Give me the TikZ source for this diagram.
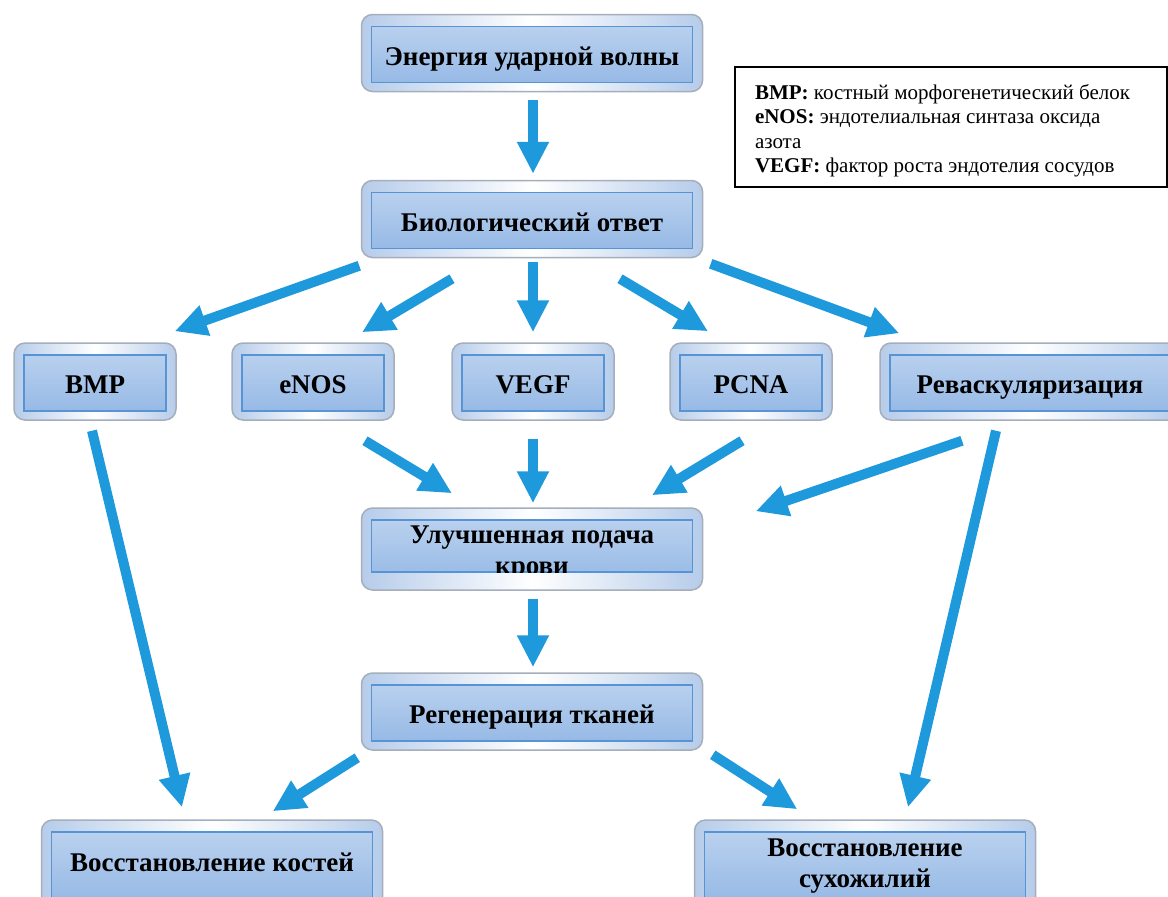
\documentclass[tikz,border=0pt]{standalone}
\usepackage{fontspec}
\setmainfont{Liberation Serif}
\usetikzlibrary{arrows.meta,calc}
\definecolor{arrblue}{RGB}{30,153,219}
\definecolor{intop}{RGB}{192,213,240}
\definecolor{inbot}{RGB}{145,182,228}
\definecolor{inline}{RGB}{86,148,214}
\definecolor{framegray}{RGB}{165,174,186}
\definecolor{frameblue}{RGB}{182,204,234}
\newcommand{\boxfont}{\fontsize{27}{31}\selectfont\bfseries}
\newcommand{\keyfont}{\fontsize{21}{24.5}\selectfont}

\begin{document}
\begin{tikzpicture}[x=1pt, y=-1pt,
  in bot/.initial=9pt,
  box/.style={rounded corners=11pt, draw=framegray, line width=1.5pt,
              left color=frameblue, right color=frameblue, middle color=white,
              minimum width=341pt, minimum height=77pt, inner sep=0pt,
              font=\boxfont, text height=30pt, text depth=6pt, align=center,
              path picture={\draw[sharp corners, draw=inline, line width=1.2pt,
                  top color=intop, bottom color=inbot]
                ($(path picture bounding box.north west)+(10pt,-12pt)$) rectangle
                ($(path picture bounding box.south east)+(-10pt,\pgfkeysvalueof{/tikz/in bot})$);}},
  small/.style={box, minimum width=162pt},
  arr/.style={draw=arrblue, line width=10pt, -{Triangle[width=30pt,length=32pt]}}
]
\useasboundingbox (0,0) rectangle (1168,897);
\clip (0,0) rectangle (1168,897);
% top
\node[box] (energy) at (532,53) {Энергия ударной волны};
\node[box] (bio) at (532,219) {Биологический ответ};
% factors
\node[small] (bmp) at (95,381.5) {BMP};
\node[small] (enos) at (313,381.5) {eNOS};
\node[small] (vegf) at (533,381.5) {VEGF};
\node[small] (pcna) at (751,381.5) {PCNA};
\node[box, minimum width=300pt] (revasc) at (1030,381.5) {Реваскуляризация};
% blood supply (text cut by the inner box)
\node[box, minimum height=82pt, in bot=18pt] (blood) at (532,549) {};
\begin{scope}
  \clip ($(blood.north west)+(10,12)$) rectangle ($(blood.south east)+(-10,-18)$);
  \node[font=\boxfont, align=center, inner sep=0pt] (bloodtext) at ($(blood)+(0,4)$)
    {Улучшенная подача\\крови};
\end{scope}
% results (cut by the page bottom)
\node[box] (regen) at (532,711.5) {Регенерация тканей};
\node[box, minimum height=90pt, text height=18pt] (bone) at (212,865) {Восстановление костей};
\node[box, minimum height=90pt, text height=51pt] (tendon) at (865,865) {Восстановление\\сухожилий};
% key
\node[draw=black, line width=2pt, anchor=north west, minimum width=432pt,
      minimum height=120pt, inner xsep=20pt, text width=392pt, align=flush left,
      text height=23pt, font=\keyfont] (key) at (734,66)
  {\textbf{BMP:} костный морфогенетический белок\\
   \textbf{eNOS:} эндотелиальная синтаза оксида\\
   азота\\
   \textbf{VEGF:} фактор роста эндотелия сосудов};
% arrows
\draw[arr] ($(energy.south)+(1,8)$) -- ($(bio.north)+(1,-6)$);
\draw[arr] ($(bio.south west)+(-1.5,7.5)$) -- ($(bmp.north east)+(-2,-11)$);
\draw[arr] ($(bio.south)+(-80,20.5)$) -- ($(enos.north)+(49,-10)$);
\draw[arr] ($(bio.south)+(1,3.5)$) -- ($(vegf.north)+(0,-10)$);
\draw[arr] ($(bio.south)+(88,20.5)$) -- ($(pcna.north)+(-43,-11)$);
\draw[arr] ($(bio.south east)+(7.5,5.5)$) -- ($(revasc.north west)+(20,-9)$);
\draw[arr] ($(enos.south)+(52,20)$) -- ($(blood.north)+(-80,-14)$);
\draw[arr] ($(vegf.south)+(0,18)$) -- ($(blood.north)+(1,-4)$);
\draw[arr] ($(pcna.south)+(-9,20)$) -- ($(blood.north)+(120,-12)$);
\draw[arr] ($(revasc.south)+(-68,20)$) -- ($(blood.north east)+(52.5,4)$);
\draw[arr] ($(bmp.south)+(-3,10)$) -- ($(bone.north)+(-30,-12)$);
\draw[arr] ($(revasc.south)+(-34,10)$) -- ($(tendon.north)+(43,-12)$);
\draw[arr] ($(blood.south)+(1,8)$) -- ($(regen.north)+(1,-5)$);
\draw[arr] ($(regen.south west)+(-3.5,7)$) -- ($(bone.north east)+(-110.5,-8)$);
\draw[arr] ($(regen.south east)+(9.5,4)$) -- ($(tendon.north west)+(103.5,-10)$);
\end{tikzpicture}
\end{document}
